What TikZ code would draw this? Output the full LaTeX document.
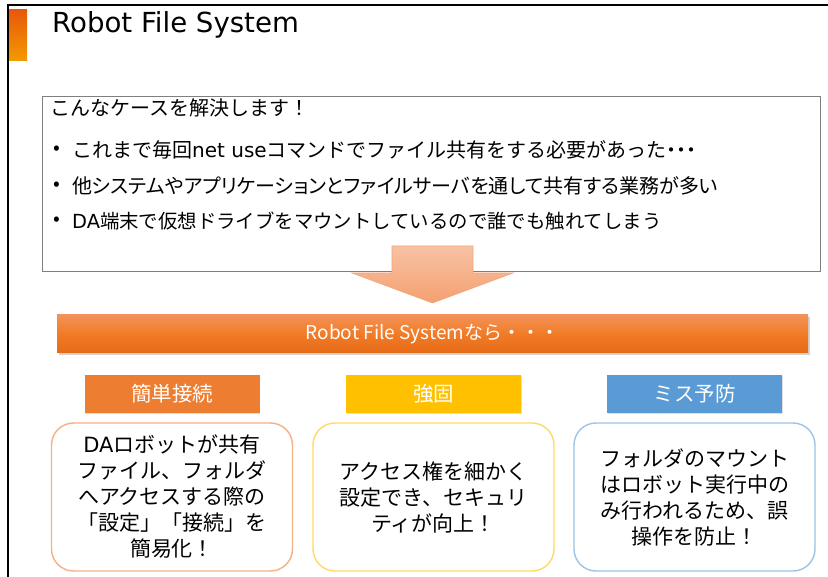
\documentclass[tikz,border=0pt]{standalone}
\usepackage{fontspec}
\setmainfont{Noto Sans CJK JP}
\newfontfamily\jpp[RawFeature=+palt]{Noto Sans CJK JP}
\newfontfamily\lat{DejaVu Sans}
\usetikzlibrary{shadows}
\definecolor{barTop}{HTML}{E8580C}
\definecolor{barBot}{HTML}{F39A00}
\definecolor{boxgray}{HTML}{7F7F7F}
\definecolor{arrTop}{HTML}{F8C2A4}
\definecolor{arrBot}{HTML}{F4A070}
\definecolor{arrEdge}{HTML}{F3A67A}
\definecolor{banTop}{HTML}{F29258}
\definecolor{banMid}{HTML}{F27B26}
\definecolor{banBot}{HTML}{E56A17}
\definecolor{labA}{HTML}{ED7D31}
\definecolor{labB}{HTML}{FFC000}
\definecolor{labC}{HTML}{5B9BD5}
\definecolor{brdA}{HTML}{F4B183}
\definecolor{brdB}{HTML}{FFD966}
\definecolor{brdC}{HTML}{9DC3E6}
\tikzset{
  caseline/.style={anchor=west, inner sep=0pt, font=\fontsize{20}{24}\selectfont},
  banner/.style={minimum width=751pt, minimum height=38pt, inner sep=0pt,
    top color=banTop, bottom color=banBot, middle color=banMid,
    text=white, font=\fontsize{19}{23}\selectfont,
    drop shadow={opacity=0.35, shadow xshift=1.5pt, shadow yshift=-2.5pt}},
  lab/.style={minimum width=175pt, minimum height=38pt, inner sep=0pt,
    text=white, font=\fontsize{20.5}{24}\selectfont,
    drop shadow={opacity=0.25, shadow xshift=0.5pt, shadow yshift=-1.5pt}},
  card/.style={draw, line width=1.4pt, rounded corners=22pt, fill=white,
    minimum width=241pt, minimum height=148pt, inner sep=0pt, align=center,
    font=\fontsize{21}{26}\selectfont}
}
\begin{document}
\begin{tikzpicture}[x=1pt,y=-1pt]
\useasboundingbox (0,0) rectangle (828,577);
\fill[white] (0,0) rectangle (828,577);
% frame
\draw[line width=2pt] (8,577) -- (8,5) -- (828,5);
\shade[top color=barTop, bottom color=barBot] (9,10) rectangle (27,61);
\node[anchor=base west, inner sep=0pt, font=\lat\fontsize{27.6}{32}\selectfont] (title) at (52,33) {Robot File System};
% case box
\node[draw=boxgray, line width=1pt, minimum width=778pt, minimum height=175pt, anchor=north west, inner sep=0pt] (case) at (42,96) {};
\node[caseline] (l0) at (50,108) {こんなケースを解決します！};
\node[caseline] (b1) at (53,150) {•};
\node[caseline] (l1) at (72,150) {これまで毎回{\lat net use}コマンドでファイル共有をする必要があった{\jpp ・・・}};
\node[caseline] (b2) at (53,186) {•};
\node[caseline, font=\jpp\fontsize{20}{24}\selectfont] (l2) at (72,186) {他システムやアプリケーションとファイルサーバを通して共有する業務が多い};
\node[caseline] (b3) at (53,221) {•};
\node[caseline, font=\fontsize{19.4}{24}\selectfont] (l3) at (72,221) {{\lat DA}端末で仮想ドライブをマウントしているので誰でも触れてしまう};
% arrow
\shade[top color=arrTop, bottom color=arrBot, draw=arrEdge, line width=0.6pt]
  (392,246) -- (473,246) -- (473,273) -- (513,273) -- (432.5,303) -- (352,273) -- (392,273) -- cycle;
% banner
\node[banner] (rfs) at (432.5,334) {Robot File Systemなら・・・};
% labels
\node[lab, fill=labA] (ka) at (172,394) {簡単接続};
\node[lab, fill=labB] (kb) at (433.5,394) {強固};
\node[lab, fill=labC] (kc) at (694.5,394) {ミス予防};
% cards
\node[card, draw=brdA] (ca) at (172,497) {{\lat DA}ロボットが共有\\ファイル、フォルダ\\へアクセスする際の\\「設定」「接続」を\\簡易化！};
\node[card, draw=brdB] (cb) at (433.5,497) {アクセス権を細かく\\設定でき、セキュリ\\ティが向上！};
\node[card, draw=brdC] (cc) at (694.5,497) {フォルダのマウント\\はロボット実行中の\\み行われるため、誤\\操作を防止！};
\end{tikzpicture}
\end{document}
